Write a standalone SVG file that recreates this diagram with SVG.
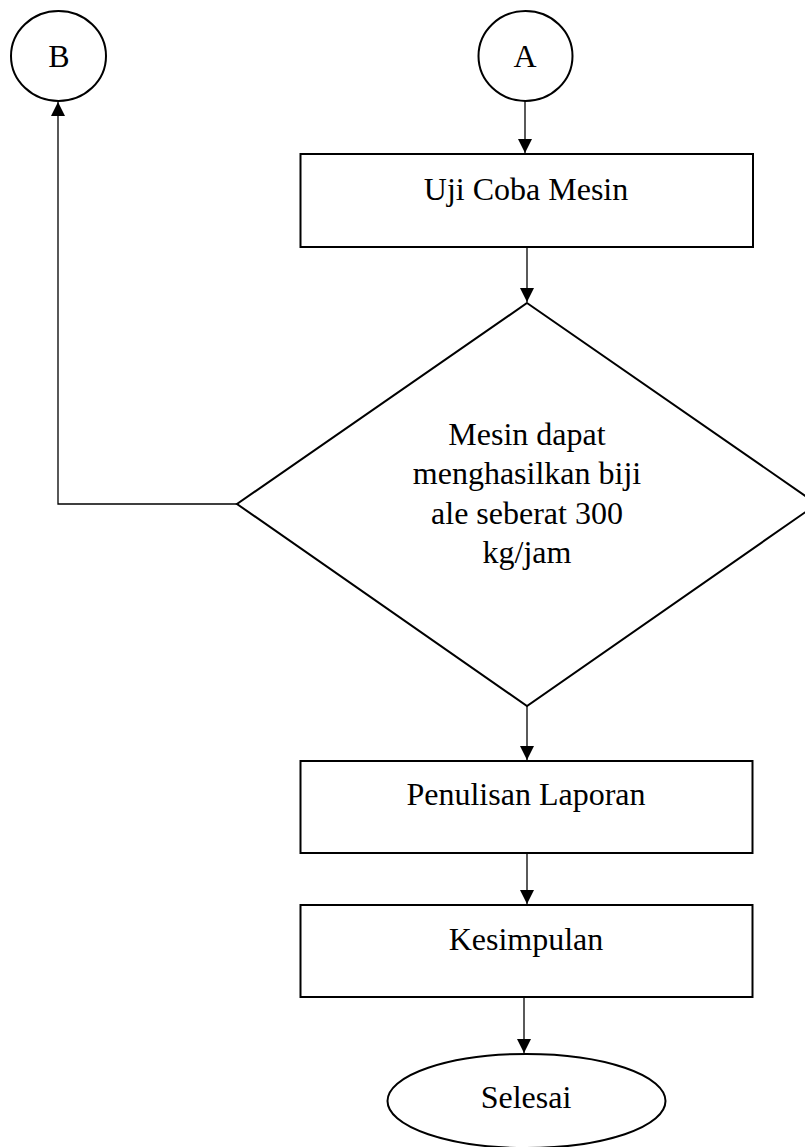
<svg xmlns="http://www.w3.org/2000/svg" width="805" height="1147" viewBox="0 0 805 1147">
<style>
.shape{fill:#fff;stroke:#000;stroke-width:2}
.lbl{font-family:"Liberation Serif","Times New Roman",serif;font-size:32px;fill:#000;text-anchor:middle}
.conn{fill:none;stroke:#000;stroke-width:1.3}
</style>
<defs>
<marker id="arr" markerUnits="userSpaceOnUse" markerWidth="15" markerHeight="15" refX="14" refY="7" orient="auto">
<path d="M0,0 L14,7 L0,14 z" fill="#000"/>
</marker>
</defs>
<rect width="805" height="1147" fill="#fff"/>
<g id="connectors">
<line class="conn" x1="525" y1="101" x2="525" y2="153" marker-end="url(#arr)"/>
<line class="conn" x1="527" y1="247" x2="527" y2="302" marker-end="url(#arr)"/>
<polyline class="conn" points="237,504 58,504 58,102" marker-end="url(#arr)"/>
<line class="conn" x1="527" y1="706" x2="527" y2="760" marker-end="url(#arr)"/>
<line class="conn" x1="527" y1="853" x2="527" y2="904" marker-end="url(#arr)"/>
<line class="conn" x1="524" y1="997" x2="524" y2="1053" marker-end="url(#arr)"/>
</g>
<g id="nodeB">
<ellipse class="shape" cx="58.5" cy="56" rx="47.5" ry="45"/>
<text class="lbl" x="59" y="67">B</text>
</g>
<g id="nodeA">
<ellipse class="shape" cx="525.5" cy="56" rx="47" ry="45"/>
<text class="lbl" x="525" y="67">A</text>
</g>
<g id="uji">
<rect class="shape" x="300.5" y="154" width="452.5" height="93"/>
<text class="lbl" x="526" y="200">Uji Coba Mesin</text>
</g>
<g id="decision">
<polygon class="shape" points="527,303 817,504 527,706 237,504"/>
<text class="lbl" x="527" y="445">Mesin dapat</text>
<text class="lbl" x="527" y="484">menghasilkan biji</text>
<text class="lbl" x="527" y="524">ale seberat 300</text>
<text class="lbl" x="527" y="563">kg/jam</text>
</g>
<g id="penulisan">
<rect class="shape" x="300.5" y="761" width="452" height="92"/>
<text class="lbl" x="526" y="805">Penulisan Laporan</text>
</g>
<g id="kesimpulan">
<rect class="shape" x="300.5" y="905" width="452" height="92"/>
<text class="lbl" x="526" y="950">Kesimpulan</text>
</g>
<g id="selesai">
<ellipse class="shape" cx="526.5" cy="1101" rx="139" ry="47"/>
<text class="lbl" x="526" y="1108">Selesai</text>
</g>
</svg>
